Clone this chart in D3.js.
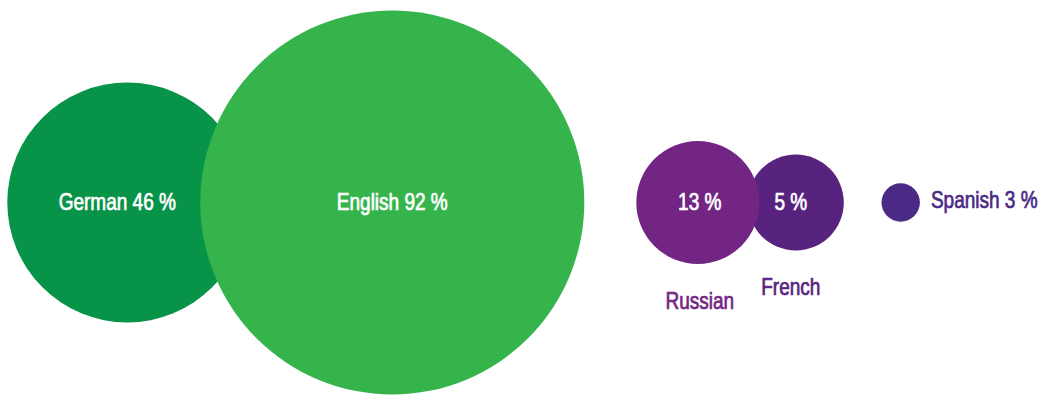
<!DOCTYPE html>
<html>
<head>
<meta charset="utf-8">
<script src="https://cdn.jsdelivr.net/npm/d3@7/dist/d3.min.js"></script>
<style>
  html, body { margin: 0; padding: 0; background: #fff; }
  svg { display: block; }
  text { font-family: "Liberation Sans Narrow", "Arial Narrow", "Liberation Sans", Arial, sans-serif; }
</style>
</head>
<body>
<svg id="chart" width="1039" height="395"></svg>
<script>
// Share of respondents by language
const languages = ["German", "English", "Russian", "French", "Spanish"];
const shares    = [46, 92, 13, 5, 3];

// Drawing setup
const width = 1039, height = 395;
const cy = 202.5;
const leftMargin = 7.3;
// spacing between neighbouring circles (negative = overlap)
const spacing = [-47, 52, -11.5, 37.7];
const fills = ["#079348", "#35b44c", "#722582", "#58237f", "#4b2a86"];
const labelMode = ["inside-name", "inside-name", "inside-below", "inside-below", "right"];
const labelNudge = [-10, 0, 2, -5, 0];
const fontSize = 23;
const targetWidth = 111; // rendered width of "English 92 %"

const svg = d3.select("#chart");

// radius scale keyed on the share values
const r = d3.scaleLinear()
  .domain([3, 5, 13, 46, 92])
  .range([19.2, 48, 61.5, 120, 192]);

const color = d3.scaleOrdinal().domain(languages).range(fills);

const data = languages.map((name, i) => ({ name, value: shares[i], i }));

// pack circles left to right
let x = leftMargin;
data.forEach((d, i) => {
  d.r = r(d.value);
  if (i > 0) x += spacing[i - 1];
  d.cx = x + d.r;
  x = d.cx + d.r;
});

const pct = v => `${v} %`;

// drawing order: German under English, French under Russian
const order = [0, 1, 3, 2, 4];

svg.append("g")
  .selectAll("circle")
  .data(order.map(i => data[i]))
  .join("circle")
    .attr("cx", d => d.cx)
    .attr("cy", cy)
    .attr("r", d => d.r)
    .attr("fill", d => color(d.name));

const labels = svg.append("g")
  .style("font-size", fontSize + "px")
  .attr("stroke-width", 0.7)
  .attr("stroke-linejoin", "round");

function addLabel(px, py, anchor, fill, str) {
  labels.append("text")
    .attr("class", "lbl")
    .attr("x", px)
    .attr("y", py)
    .attr("text-anchor", anchor)
    .attr("fill", fill)
    .attr("stroke", fill)
    .text(str);
}

data.forEach((d, i) => {
  const mode = labelMode[i];
  if (mode === "inside-name") {
    addLabel(d.cx + labelNudge[i], cy + 8, "middle", "#ffffff", `${d.name} ${pct(d.value)}`);
  }
  if (mode === "inside-below") {
    addLabel(d.cx + labelNudge[i], cy + 8, "middle", "#ffffff", pct(d.value));
    addLabel(d.cx + labelNudge[i], cy + d.r + 45, "middle", color(d.name), d.name);
  }
  if (mode === "right") {
    addLabel(d.cx + d.r + 11, cy + 6, "start", color(d.name), `${d.name} ${pct(d.value)}`);
  }
});

// condense glyphs horizontally to the label face's proportions
const probe = labels.append("text").text("English 92 %");
const w = probe.node().getComputedTextLength();
probe.remove();
const k = targetWidth / w;
labels.selectAll("text.lbl").each(function () {
  const t = d3.select(this);
  const tx = +t.attr("x"), ty = +t.attr("y");
  t.attr("transform", `translate(${tx},${ty}) scale(${k},1) translate(${-tx},${-ty})`);
});
</script>
</body>
</html>
